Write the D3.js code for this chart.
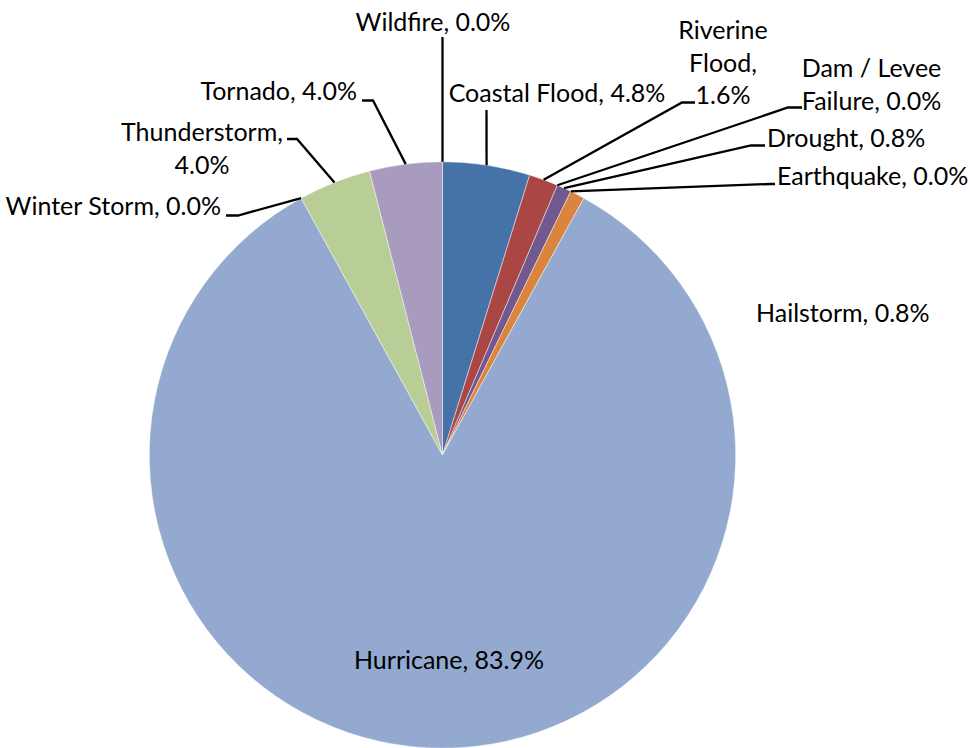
<!DOCTYPE html>
<html>
<head>
<meta charset="utf-8">
<script src="https://cdn.jsdelivr.net/npm/d3@7"></script>
<style>
  html, body { margin: 0; padding: 0; background: #fff; }
  svg text { font-family: Lato, "Open Sans", sans-serif; font-size: 25px; fill: #000; }
</style>
</head>
<body>
<svg id="chart" width="970" height="748"></svg>
<script>
// ---- data ----
const categories = ["Coastal Flood", "Riverine Flood", "Dam / Levee Failure", "Drought", "Earthquake",
  "Hailstorm", "Hurricane", "Winter Storm", "Thunderstorm", "Tornado", "Wildfire"];
const percentages = [4.8, 1.6, 0.0, 0.8, 0.0, 0.8, 83.9, 0.0, 4.0, 4.0, 0.0];
const colors = ["#4573A7", "#AA4643", "#4198AF", "#71588F", "#4198AF", "#DB843D",
  "#93A9CF", "#D19392", "#B9CD96", "#A99BBD", "#92C3D4"];

// ---- label layout (annotation placement) ----
const labelLayout = {
  "Coastal Flood":       { x: 557, y: 102, anchor: "middle", lines: null, leader: [[486.5, 110]] },
  "Riverine Flood":      { x: 723, y: 39,  anchor: "middle", lines: [1, 1, 1], leader: [[682, 102.5], [695, 102.5]] },
  "Dam / Levee Failure": { x: 871.5, y: 77, anchor: "middle", lines: [3, 2], leader: [[788, 107.5], [802, 107.5]] },
  "Drought":             { x: 767, y: 147, anchor: "start", lines: null, leader: [[751, 145.5], [765, 145.5]] },
  "Earthquake":          { x: 777, y: 185, anchor: "start", lines: null, leader: [[770, 184], [775, 184]] },
  "Hailstorm":           { x: 756, y: 322, anchor: "start", lines: null, leader: null },
  "Hurricane":           { x: 449, y: 669, anchor: "middle", lines: null, leader: null },
  "Winter Storm":        { x: 221, y: 215, anchor: "end", lines: null, leader: [[238, 215.5], [226, 215.5]] },
  "Thunderstorm":        { x: 202, y: 141, anchor: "middle", lines: [1, 1], leader: [[297, 139], [287, 139]] },
  "Tornado":             { x: 357, y: 99.5, anchor: "end", lines: null, leader: [[373, 100.5], [362, 100.5]] },
  "Wildfire":            { x: 433, y: 31, anchor: "middle", lines: null, leader: [[442.5, 37]] }
};

const svg = d3.select("#chart");
const cx = 442.5, cy = 455, r = 293.2;
const g = svg.append("g").attr("transform", `translate(${cx},${cy})`);

const data = categories.map((c, i) => ({ name: c, value: percentages[i], color: colors[i] }));
const pie = d3.pie().value(d => d.value).sort(null).startAngle(0).endAngle(2 * Math.PI);
const arcs = pie(data);
const arc = d3.arc().innerRadius(0).outerRadius(r);

g.selectAll("path.slice").data(arcs.filter(a => a.data.value > 0)).join("path")
  .attr("class", "slice")
  .attr("d", arc)
  .attr("fill", d => d.data.color)
  .attr("stroke", "rgba(255,255,255,0.45)")
  .attr("stroke-width", 1);

const fmt = d3.format(".1f");
const lbl = svg.append("g");

arcs.forEach(a => {
  const L = labelLayout[a.data.name];
  if (!L) return;
  const mid = (a.startAngle + a.endAngle) / 2;
  const px = cx + r * Math.sin(mid), py = cy - r * Math.cos(mid);
  if (L.leader) {
    const pts = [[px, py]].concat(L.leader);
    lbl.append("path")
      .attr("d", d3.line()(pts))
      .attr("fill", "none")
      .attr("stroke", "#000")
      .attr("stroke-width", 2.3);
  }
  const text = `${a.data.name}, ${fmt(a.data.value)}%`;
  let lines = [text];
  if (L.lines) {
    const words = text.split(" ");
    lines = [];
    let k = 0;
    L.lines.forEach(n => { lines.push(words.slice(k, k + n).join(" ")); k += n; });
  }
  const t = lbl.append("text").attr("text-anchor", L.anchor);
  lines.forEach((ln, i) => {
    t.append("tspan").attr("x", L.x).attr("y", L.y + i * 32.5).text(ln);
  });
});
</script>
</body>
</html>
